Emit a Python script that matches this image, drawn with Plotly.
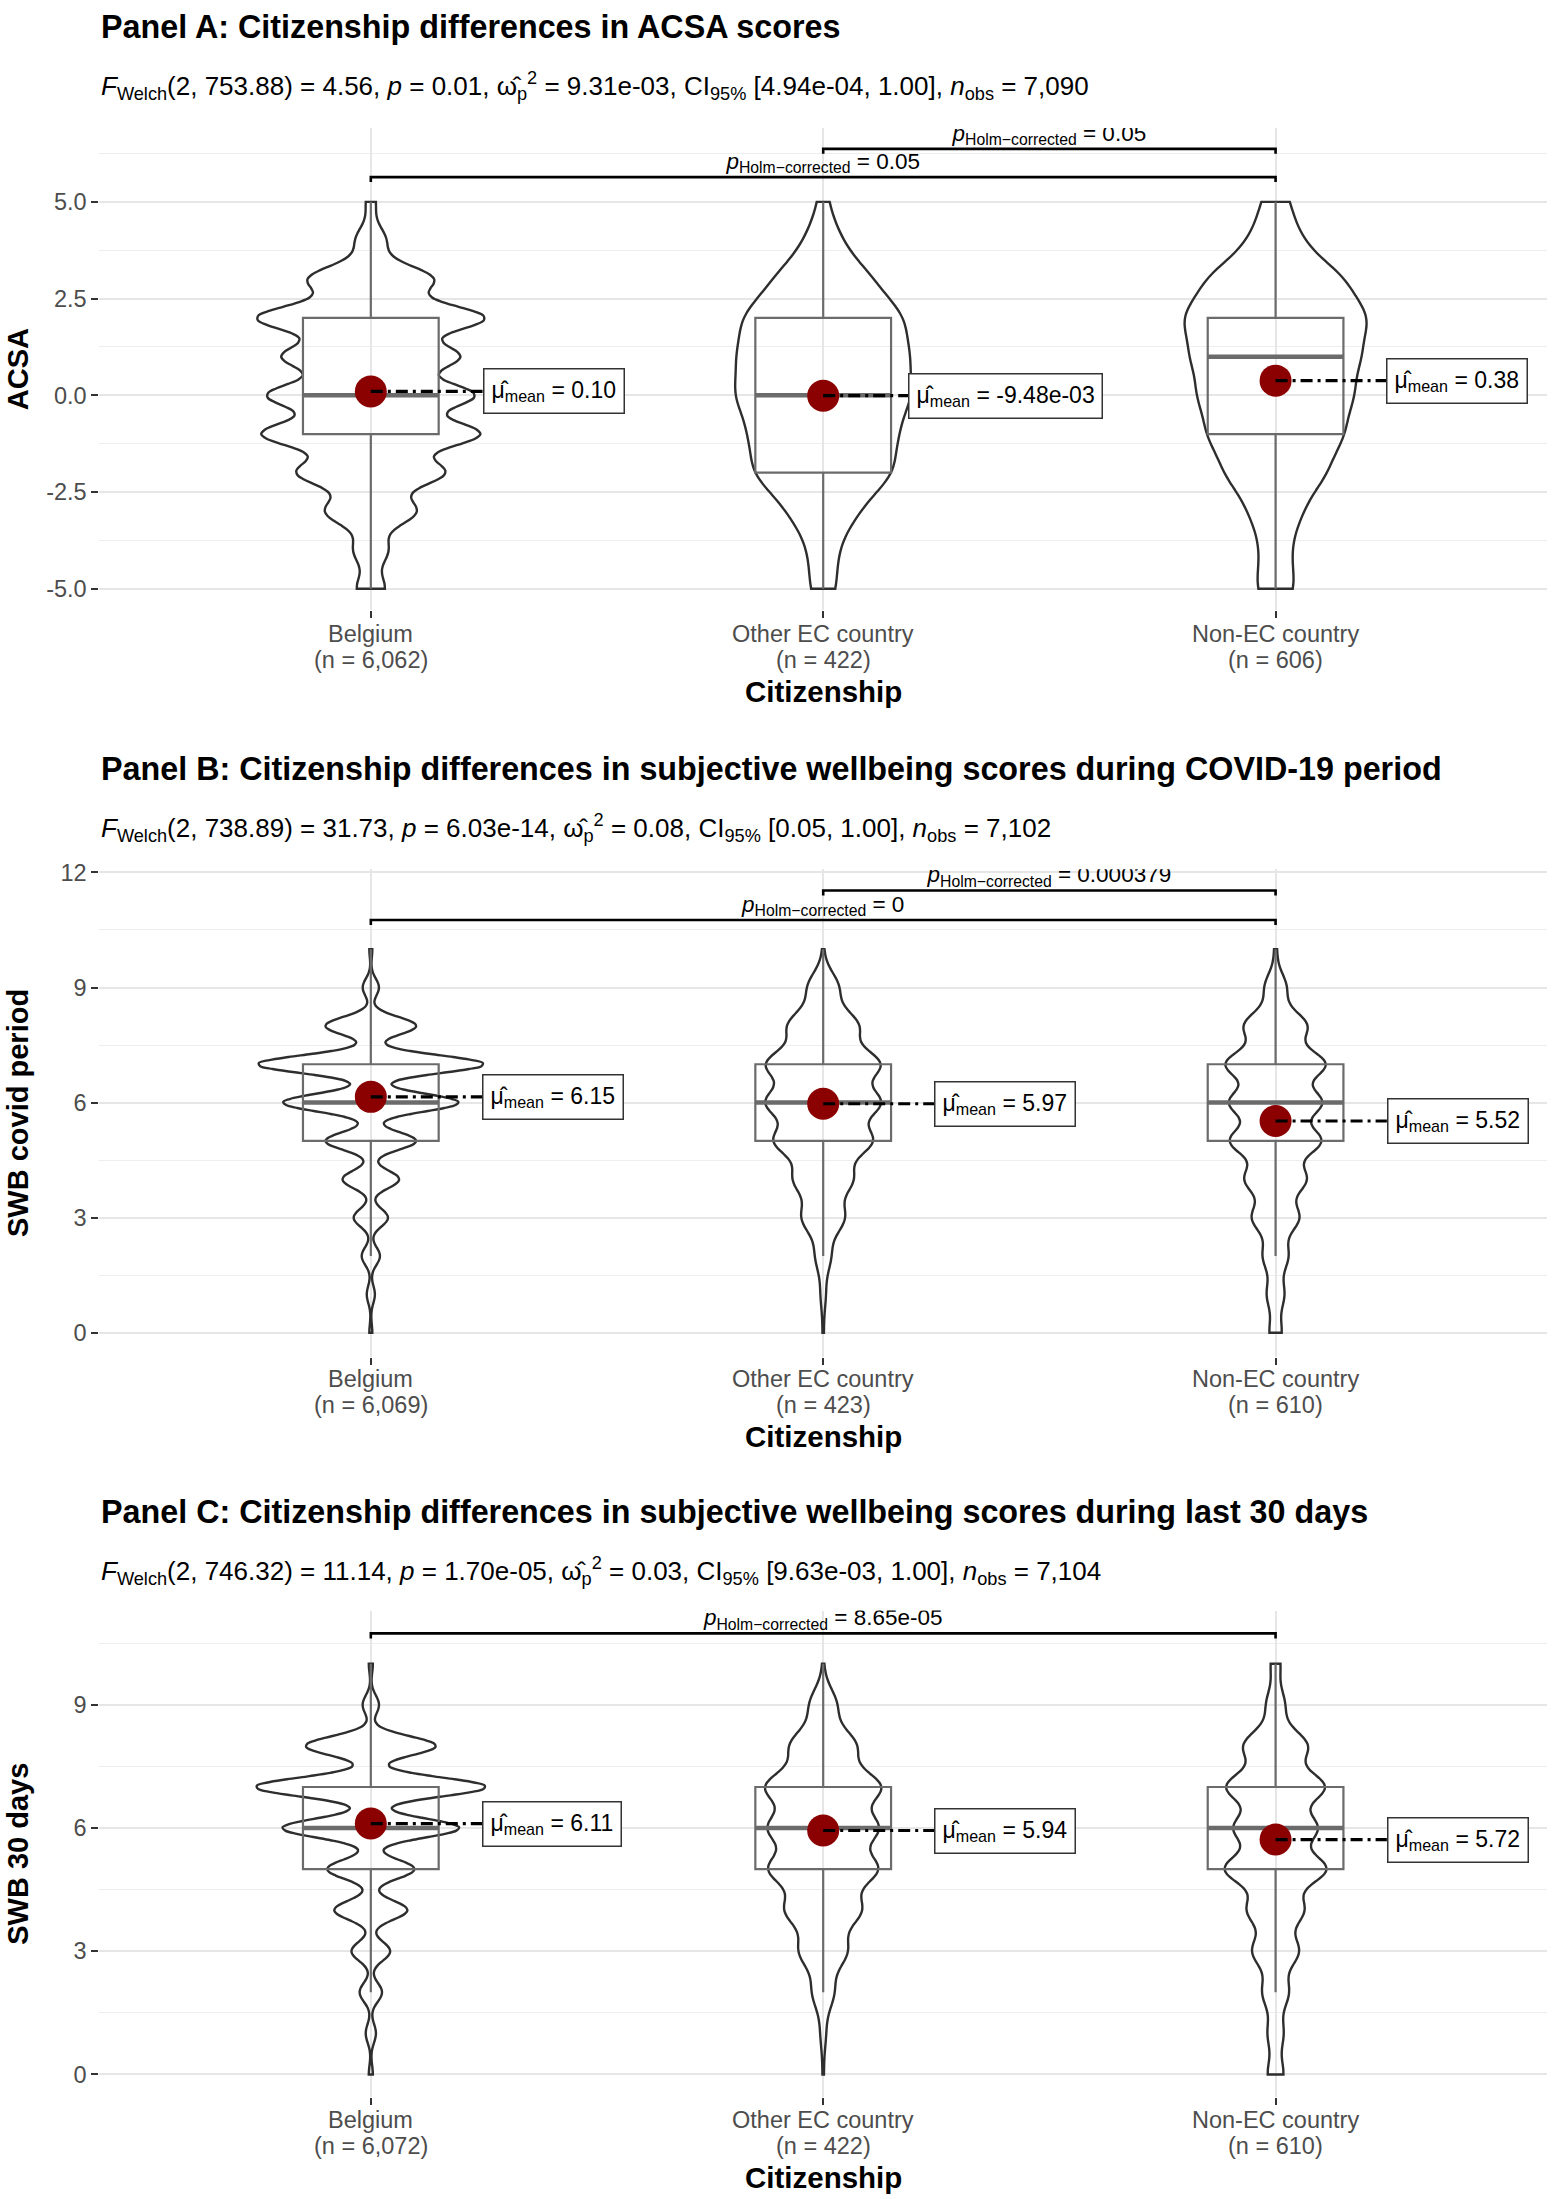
import numpy as np
import plotly.graph_objects as go

# ----------------------------------------------------------------- data
GROUPS = ["Belgium", "Other EC country", "Non-EC country"]

# Panel A: ACSA (response values -5 .. 5), estimated counts per value
A_VALUES = list(range(-5, 6))
A_COUNTS_BELGIUM = [132, 161, 426, 690, 1022, 965, 823, 1069, 586, 142, 46]
A_COUNTS_OTHER_EC = [11, 11, 27, 57, 57, 70, 67, 65, 39, 14, 4]
A_COUNTS_NON_EC = [23, 16, 29, 57, 76, 86, 93, 104, 78, 28, 16]
A_N = [6062, 422, 606]
A_MEANS = [0.10, -9.48e-03, 0.38]
A_MEAN_TEXT = ["0.10", "-9.48e-03", "0.38"]
A_Q1 = [-1, -2, -1]
A_MEDIAN = [0, 0, 1]
A_Q3 = [2, 2, 2]
A_LOWER = [-5, -5, -5]
A_UPPER = [5, 5, 5]
A_BANDWIDTH = [0.353, 0.58, 0.56]
A_PAIRS = [("Belgium", "Non-EC country", "0.05"),
           ("Other EC country", "Non-EC country", "0.05")]
A_TICKS = [-5, -2.5, 0, 2.5, 5]
A_TICKTEXT = ["-5.0", "-2.5", "0.0", "2.5", "5.0"]
A_STATS = ("<i>F</i><sub>Welch</sub>(2, 753.88) = 4.56, <i>p</i> = 0.01, "
           "ω̂<sub>p</sub><sup>2</sup> = 9.31e-03, CI<sub>95%</sub> [4.94e-04, 1.00], "
           "<i>n</i><sub>obs</sub> = 7,090")

# Panel B: SWB covid period (0 .. 10)
B_VALUES = list(range(0, 11))
B_COUNTS_BELGIUM = [25, 68, 153, 288, 475, 763, 1475, 1898, 763, 136, 25]
B_COUNTS_OTHER_EC = [1, 4, 12, 33, 45, 75, 87, 87, 54, 24, 1]
B_COUNTS_NON_EC = [14, 20, 29, 54, 70, 104, 105, 114, 72, 25, 3]
B_N = [6069, 423, 610]
B_MEANS = [6.15, 5.97, 5.52]
B_MEAN_TEXT = ["6.15", "5.97", "5.52"]
B_Q1 = [5, 5, 5]
B_MEDIAN = [6, 6, 6]
B_Q3 = [7, 7, 7]
B_LOWER = [2, 2, 2]
B_UPPER = [10, 10, 10]
B_BANDWIDTH = [0.235, 0.40, 0.37]
B_PAIRS = [("Belgium", "Non-EC country", "0"),
           ("Other EC country", "Non-EC country", "0.000379")]
B_TICKS = [0, 3, 6, 9, 12]
B_TICKTEXT = ["0", "3", "6", "9", "12"]
B_STATS = ("<i>F</i><sub>Welch</sub>(2, 738.89) = 31.73, <i>p</i> = 6.03e-14, "
           "ω̂<sub>p</sub><sup>2</sup> = 0.08, CI<sub>95%</sub> [0.05, 1.00], "
           "<i>n</i><sub>obs</sub> = 7,102")

# Panel C: SWB 30 days (0 .. 10)
C_VALUES = list(range(0, 11))
C_COUNTS_BELGIUM = [31, 78, 171, 296, 560, 669, 1355, 1760, 996, 125, 31]
C_COUNTS_OTHER_EC = [1, 4, 16, 35, 55, 79, 79, 84, 48, 20, 1]
C_COUNTS_NON_EC = [18, 18, 30, 53, 64, 116, 94, 112, 73, 21, 11]
C_N = [6072, 422, 610]
C_MEANS = [6.11, 5.94, 5.72]
C_MEAN_TEXT = ["6.11", "5.94", "5.72"]
C_Q1 = [5, 5, 5]
C_MEDIAN = [6, 6, 6]
C_Q3 = [7, 7, 7]
C_LOWER = [2, 2, 2]
C_UPPER = [10, 10, 10]
C_BANDWIDTH = [0.235, 0.40, 0.37]
C_PAIRS = [("Belgium", "Non-EC country", "8.65e-05")]
C_TICKS = [0, 3, 6, 9, 12]
C_TICKTEXT = ["0", "3", "6", "9", "12"]
C_STATS = ("<i>F</i><sub>Welch</sub>(2, 746.32) = 11.14, <i>p</i> = 1.70e-05, "
           "ω̂<sub>p</sub><sup>2</sup> = 0.03, CI<sub>95%</sub> [9.63e-03, 1.00], "
           "<i>n</i><sub>obs</sub> = 7,104")

TITLES = ["Panel A: Citizenship differences in ACSA scores",
          "Panel B: Citizenship differences in subjective wellbeing scores during COVID-19 period",
          "Panel C: Citizenship differences in subjective wellbeing scores during last 30 days"]
Y_TITLES = ["ACSA", "SWB covid period", "SWB 30 days"]
X_TITLE = "Citizenship"

PANEL_DATA = [
    dict(values=A_VALUES, counts=[A_COUNTS_BELGIUM, A_COUNTS_OTHER_EC, A_COUNTS_NON_EC],
         n=A_N, means=A_MEANS, mean_text=A_MEAN_TEXT, q1=A_Q1, median=A_MEDIAN, q3=A_Q3,
         lower=A_LOWER, upper=A_UPPER, bw=A_BANDWIDTH, pairs=A_PAIRS,
         ticks=A_TICKS, ticktext=A_TICKTEXT, stats=A_STATS),
    dict(values=B_VALUES, counts=[B_COUNTS_BELGIUM, B_COUNTS_OTHER_EC, B_COUNTS_NON_EC],
         n=B_N, means=B_MEANS, mean_text=B_MEAN_TEXT, q1=B_Q1, median=B_MEDIAN, q3=B_Q3,
         lower=B_LOWER, upper=B_UPPER, bw=B_BANDWIDTH, pairs=B_PAIRS,
         ticks=B_TICKS, ticktext=B_TICKTEXT, stats=B_STATS),
    dict(values=C_VALUES, counts=[C_COUNTS_BELGIUM, C_COUNTS_OTHER_EC, C_COUNTS_NON_EC],
         n=C_N, means=C_MEANS, mean_text=C_MEAN_TEXT, q1=C_Q1, median=C_MEDIAN, q3=C_Q3,
         lower=C_LOWER, upper=C_UPPER, bw=C_BANDWIDTH, pairs=C_PAIRS,
         ticks=C_TICKS, ticktext=C_TICKTEXT, stats=C_STATS),
]

# ----------------------------------------------------------------- layout / style
W, H = 1559, 2199
X_LEFT_PX, X_RIGHT_PX = 99.4, 1547.0
X_RANGE = [0.4, 3.6]
FONT = "Liberation Sans, Arial, Helvetica, sans-serif"
GRID = "#E6E6E6"
GRID_MINOR = "#EEEEEE"
TICK_GRAY = "#4D4D4D"
BOX_GRAY = "#6B6B6B"
VIOLIN_LINE = "#2E2E2E"
MEAN_RED = "#8B0000"

# vertical pixel positions (measured on the target picture)
PANEL_STYLE = [
    dict(top=126, bottom=609, yrange=[-5.56, 6.911], title_px=25, sub_px=84,
         tick1_px=633, tick2_px=658.5, xtitle_px=690,
         violin_half_px=[113, 88, 91], bracket_y=[5.64, 6.37], nudge=[0.247, 0.188, 0.245]),
    dict(top=868, bottom=1356, yrange=[-0.625, 12.083], title_px=768, sub_px=827,
         tick1_px=1378, tick2_px=1404, xtitle_px=1436,
         violin_half_px=[112, 58, 50], bracket_y=[10.76, 11.53], nudge=[0.246, 0.246, 0.246]),
    dict(top=1610, bottom=2097, yrange=[-0.552, 11.297], title_px=1511, sub_px=1570,
         tick1_px=2120, tick2_px=2146, xtitle_px=2177,
         violin_half_px=[114, 58, 51], bracket_y=[10.74], nudge=[0.246, 0.246, 0.246]),
]

PX_PER_X = (X_RIGHT_PX - X_LEFT_PX) / (X_RANGE[1] - X_RANGE[0])
PAGE_TOP_OFFSET = 8  # page rendering offset compensation


def fig_px(ref_px):
    return ref_px * (H + PAGE_TOP_OFFSET) / H - PAGE_TOP_OFFSET


def py(ref_px):
    return 1 - fig_px(ref_px) / H


fig = go.Figure()
annotations = []
positions = {g: i + 1 for i, g in enumerate(GROUPS)}

for k, (d, s) in enumerate(zip(PANEL_DATA, PANEL_STYLE)):
    ax = "" if k == 0 else str(k + 1)
    xref, yref = "x" + ax, "y" + ax
    ppu = (fig_px(s["bottom"]) - fig_px(s["top"])) / (s["yrange"][1] - s["yrange"][0])

    for gi, g in enumerate(GROUPS):
        pos = positions[g]
        fig.add_trace(go.Box(
            x=[pos], q1=[d["q1"][gi]], median=[d["median"][gi]], q3=[d["q3"][gi]],
            lowerfence=[d["lower"][gi]], upperfence=[d["upper"][gi]],
            width=0.3, whiskerwidth=0, boxpoints=False,
            line=dict(color=BOX_GRAY, width=2.2), fillcolor="rgba(0,0,0,0)",
            xaxis=xref, yaxis=yref, showlegend=False, hoverinfo="skip"))
        fig.add_trace(go.Scatter(
            x=[pos - 0.15, pos + 0.15], y=[d["median"][gi]] * 2, mode="lines",
            line=dict(color=BOX_GRAY, width=4.5), xaxis=xref, yaxis=yref,
            showlegend=False, hoverinfo="skip"))
        samples = np.repeat(np.array(d["values"], dtype=float), d["counts"][gi])
        fig.add_trace(go.Violin(
            y=samples, x0=pos, orientation="v", bandwidth=d["bw"][gi],
            spanmode="hard", scalemode="width",
            width=2 * s["violin_half_px"][gi] / PX_PER_X,
            points=False, box_visible=False, meanline_visible=False,
            line=dict(color=VIOLIN_LINE, width=2.4), fillcolor="rgba(0,0,0,0)",
            xaxis=xref, yaxis=yref, showlegend=False, hoverinfo="skip"))

    for gi, g in enumerate(GROUPS):
        pos = positions[g]
        m = d["means"][gi]
        fig.add_trace(go.Scatter(
            x=[pos], y=[m], mode="markers",
            marker=dict(color=MEAN_RED, size=32, line=dict(width=0)),
            xaxis=xref, yaxis=yref, showlegend=False, hoverinfo="skip"))
        fig.add_trace(go.Scatter(
            x=[pos, pos + s["nudge"][gi]], y=[m, m], mode="lines",
            line=dict(color="black", width=3.2, dash="12px,5px,3px,5px"),
            xaxis=xref, yaxis=yref, showlegend=False, hoverinfo="skip"))
        annotations.append(dict(
            x=pos + s["nudge"][gi], y=m, xref=xref, yref=yref,
            xanchor="left", yanchor="middle", showarrow=False,
            text="μ̂<sub>mean</sub> = " + d["mean_text"][gi],
            font=dict(family=FONT, size=23, color="black"),
            bgcolor="white", bordercolor="#333333", borderwidth=1.5, borderpad=7))

    tip = 5 / ppu
    for (g1, g2, ptxt), yb in zip(d["pairs"], s["bracket_y"]):
        x1, x2 = positions[g1], positions[g2]
        fig.add_trace(go.Scatter(
            x=[x1, x1, x2, x2], y=[yb - tip, yb, yb, yb - tip], mode="lines",
            line=dict(color="black", width=2.6), xaxis=xref, yaxis=yref,
            showlegend=False, hoverinfo="skip"))
        fig.add_trace(go.Scatter(
            x=[(x1 + x2) / 2], y=[yb + 14 / ppu], mode="text",
            text=["<i>p</i><sub>Holm−corrected</sub> = " + ptxt],
            textposition="middle center", cliponaxis=True,
            textfont=dict(family=FONT, size=22.5, color="black"),
            xaxis=xref, yaxis=yref, showlegend=False, hoverinfo="skip"))

    ticks = d["ticks"]
    step = ticks[1] - ticks[0]
    minor_vals = [t + step / 2 for t in ticks] + [ticks[0] - step / 2]
    fig.update_layout(**{
        "xaxis" + ax: dict(
            domain=[X_LEFT_PX / W, X_RIGHT_PX / W], range=X_RANGE, anchor=yref,
            tickmode="array", tickvals=[positions[g] for g in GROUPS],
            showticklabels=False,
            ticks="outside", ticklen=7, tickwidth=2, tickcolor="#333333",
            showgrid=True, gridcolor=GRID, gridwidth=1.5,
            zeroline=False, showline=False),
        "yaxis" + ax: dict(
            domain=[py(s["bottom"]), py(s["top"])], range=s["yrange"], anchor=xref,
            tickmode="array", tickvals=ticks, ticktext=d["ticktext"],
            ticks="outside", ticklen=7, tickwidth=2, tickcolor="#333333",
            tickfont=dict(family=FONT, size=23.5, color=TICK_GRAY),
            showgrid=True, gridcolor=GRID, gridwidth=2.2,
            minor=dict(tickmode="array", tickvals=minor_vals, showgrid=True,
                       gridcolor=GRID_MINOR, gridwidth=1.3, ticks=""),
            zeroline=False, showline=False),
    })

    # category labels (two lines, tighter than plotly's tick line spacing)
    for g, n in zip(GROUPS, d["n"]):
        annotations.append(dict(
            x=positions[g], y=py(s["tick1_px"]), xref=xref, yref="paper",
            xanchor="center", yanchor="middle", showarrow=False, text=g,
            font=dict(family=FONT, size=23.5, color=TICK_GRAY)))
        annotations.append(dict(
            x=positions[g], y=py(s["tick2_px"]), xref=xref, yref="paper",
            xanchor="center", yanchor="middle", showarrow=False, text=f"(n = {n:,})",
            font=dict(family=FONT, size=23.5, color=TICK_GRAY)))

    annotations.append(dict(
        x=X_LEFT_PX / W, y=py(s["title_px"]), xref="paper", yref="paper",
        xanchor="left", yanchor="middle", showarrow=False,
        text="<b>" + TITLES[k] + "</b>",
        font=dict(family=FONT, size=32.3, color="black")))
    annotations.append(dict(
        x=X_LEFT_PX / W, y=py(s["sub_px"]), xref="paper", yref="paper",
        xanchor="left", yanchor="middle", showarrow=False,
        text=d["stats"], font=dict(family=FONT, size=26, color="black")))
    annotations.append(dict(
        x=(X_LEFT_PX + X_RIGHT_PX) / 2 / W, y=py(s["xtitle_px"]), xref="paper", yref="paper",
        xanchor="center", yanchor="middle", showarrow=False,
        text="<b>" + X_TITLE + "</b>", font=dict(family=FONT, size=29.5, color="black")))
    annotations.append(dict(
        x=18 / W, y=py((s["top"] + s["bottom"]) / 2), xref="paper", yref="paper",
        xanchor="center", yanchor="middle", showarrow=False, textangle=-90,
        text="<b>" + Y_TITLES[k] + "</b>", font=dict(family=FONT, size=29, color="black")))

fig.update_layout(
    width=W, height=H, autosize=False,
    margin=dict(l=0, r=0, t=0, b=0),
    paper_bgcolor="white", plot_bgcolor="white",
    font=dict(family=FONT, color="black"),
    violinmode="overlay", boxmode="overlay",
    showlegend=False, hovermode=False,
    annotations=annotations,
)

fig.write_html("out.html", config={"displayModeBar": False},
               post_script="document.body.style.margin='0';document.body.style.overflow='hidden';")
